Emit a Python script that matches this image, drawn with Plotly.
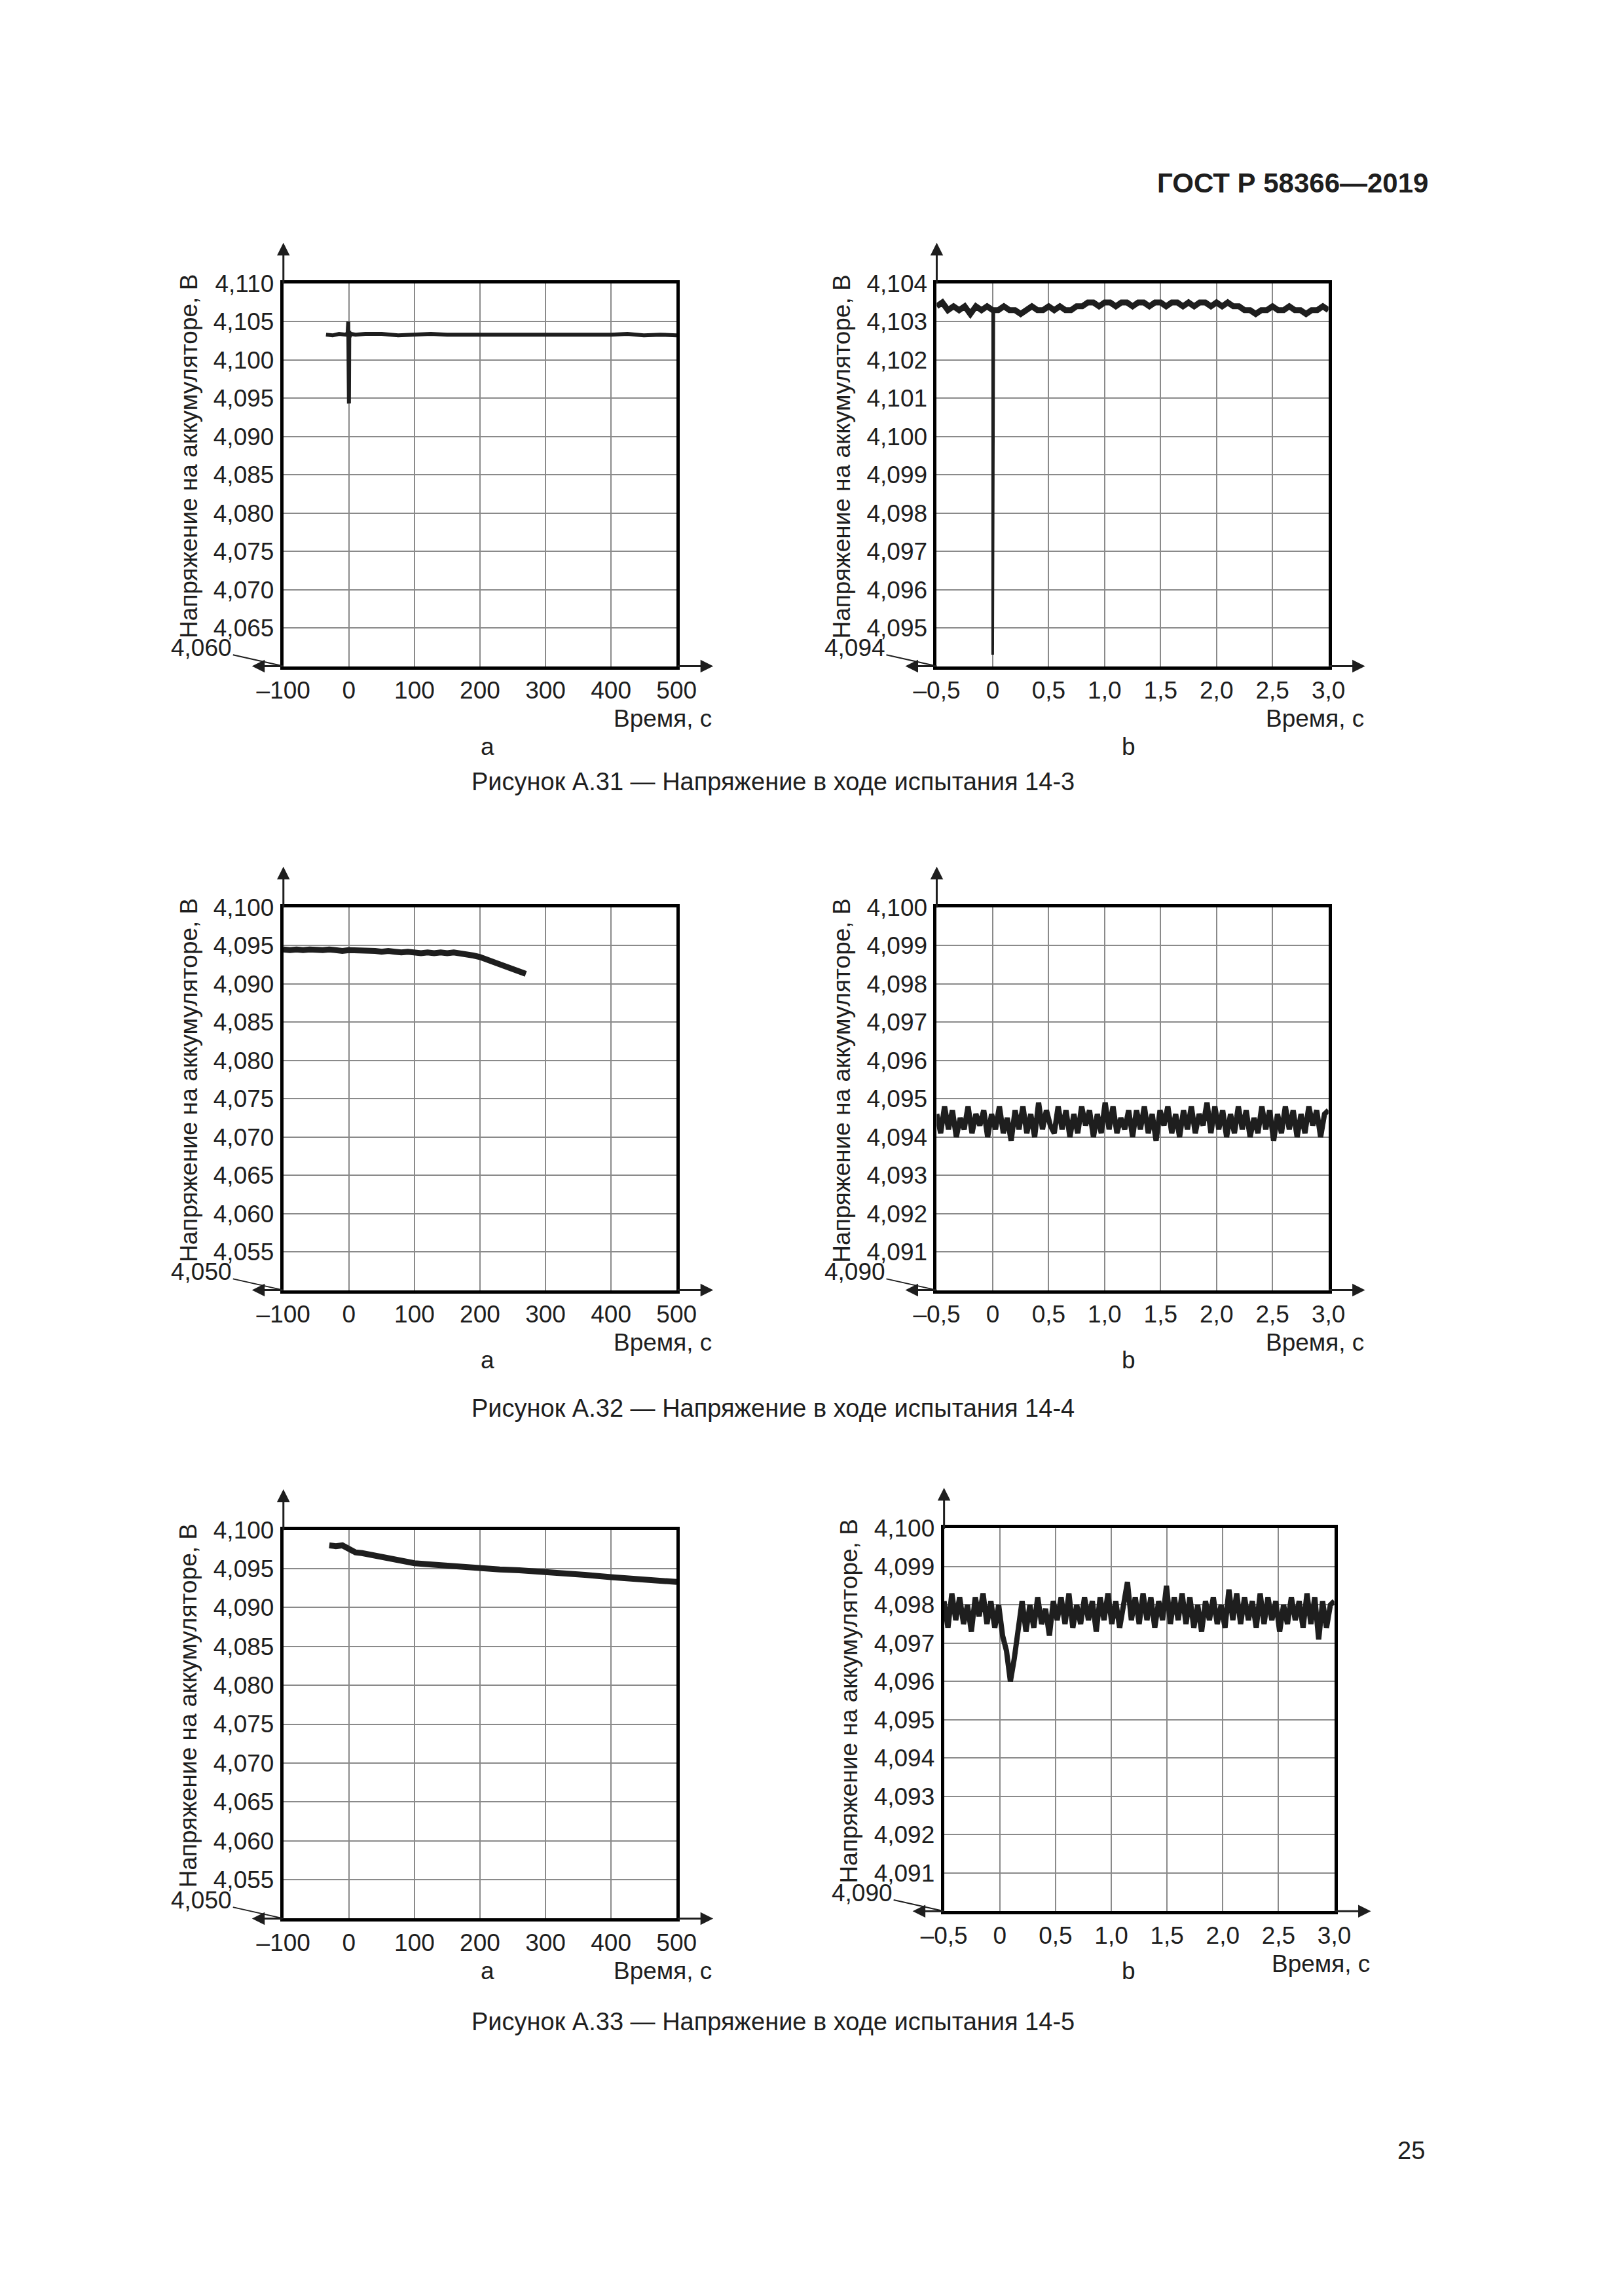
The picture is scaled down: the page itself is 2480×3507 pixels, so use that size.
import numpy as np
import plotly.graph_objects as go

W, H = 2480, 3507
S = 2.232  # reference sketch px -> page px
OFF = -6

# ---- data ----
t_31a = [-35, -25, -15, -5, -2, -1, 0, 0.5, 1, 3, 10, 25, 50, 75, 100, 125, 150, 175, 200, 225,
         250, 275, 300, 325, 350, 375, 400, 425, 450, 475, 500]
v_31a = [4.1033, 4.1032, 4.1034, 4.1033, 4.1035, 4.1050, 4.0943, 4.1038, 4.1030, 4.1034,
         4.1033, 4.1034, 4.1034, 4.1032, 4.1033, 4.1034, 4.1033, 4.1033, 4.1032, 4.1033,
         4.1032, 4.1033, 4.1032, 4.1032, 4.1033, 4.1032, 4.1033, 4.1034, 4.1032, 4.1033, 4.1032]

# 14-3 b, 1e-4 V above 4.1030
d_31b = [4, 5, 3, 4, 3, 4, 2, 4, 3, 4, 3,
         3, 4, 3, 3, 2, 3, 4, 3, 3, 4, 3, 4, 3, 3, 4, 4, 5, 5, 4, 5,
         5, 4, 5, 5, 4, 5, 5, 4, 5, 5, 4, 5, 5, 4, 5, 4, 5, 5, 4, 5,
         4, 5, 4, 4, 3, 3, 2, 3, 3, 4, 3, 3, 4, 3, 3, 2, 3, 3, 4, 3]
spike_31b_t = [0, 0, 0.01]
spike_31b_v = [4.1033, 4.0943, 4.1033]

t_32a = [-100, -90, -80, -70, -60, -50, -40, -30, -20, -10, 0, 10, 20, 30, 40, 50, 60, 70, 80, 90,
         100, 110, 120, 130, 140, 150, 160, 170, 180, 190, 200, 210, 220, 230, 240, 250, 260, 270]
d_32a = [45, 44, 45, 44, 45, 44, 44, 45, 44, 43, 44, 44, 43, 44, 43, 42, 43, 42, 41, 42,
         41, 40, 41, 40, 41, 40, 41, 40, 39, 37, 35, 32, 29, 26, 23, 20, 16, 13]  # 1e-4 V above 4.090

d_32b = [2, -3, 4, -2, 3, -4, 1, -2, 4, -3,
         2, -1, 3, -4, 2, -2, 4, -3, 1, -5,
         3, -2, 4, -3, 2, -4, 5, -2, 3, -1,
         -3, 4, -2, 3, -4, 2, -3, 4, -1, 3,
         -4, 2, -3, 5, -2, 4, -3, 1, -2, 3,
         -4, 3, -2, 4, -3, 2, -5, 3, -1, 4,
         -3, 2, -4, 3, -2, 4, -3, 2, -1, 5,
         -3, 4, -2, 3, -4, 2, -3, 4, -2, 3,
         -4, 1, -3, 4, -2, 3, -5, 2, -3, 4,
         -2, 3, -4, 2, -3, 4, -1, 3, -4, 2, 3]  # 1e-4 V around 4.0944

t_33a = [-30, -20, -10, -5, 0, 5, 10, 20, 40, 60, 80, 100, 130, 160, 200, 230, 260, 300,
         330, 360, 400, 430, 460, 500]
d_33a = [80, 79, 80, 78, 74, 72, 71, 70, 67, 64, 61, 57, 55, 53, 50, 49, 48, 46,
         44, 42, 39, 37, 35, 33]  # 1e-4 V above 4.090

d_33b = [3, -4, 5, -2, 4, -3, 2, -5, 4, -1,
         5, -3, 3, -4, 2, -6, -10, -18, -12, -4,
         3, -5, 2, -4, 4, -3, 1, -6, 3, -2,
         4, -3, 5, -4, 2, -3, 4, -2, 3, -5,
         4, -2, 5, -3, 3, -4, 2, 8, -2, 4,
         -3, 5, -2, 4, -4, 3, -2, 7, -3, 4,
         -2, 5, -3, 4, -4, 2, -5, 3, -2, 4,
         -3, 2, -4, 6, -2, 5, -3, 4, -2, 3,
         -4, 5, -3, 4, -2, 3, -5, 2, -3, 4,
         -2, 3, -4, 5, -3, 4, -7, 3, -4, 2, 3]  # 1e-4 V around 4.0978

x_ticks_a = [-100, 0, 100, 200, 300, 400, 500]
x_ticks_b = [-0.5, 0, 0.5, 1.0, 1.5, 2.0, 2.5, 3.0]

panels = [
    dict(box=(193, 462, 193, 455), xt=x_ticks_a, yr=(4.060, 4.110), dy=0.005,
         tr=[(t_31a, v_31a, 6)]),
    dict(box=(640, 908, 193, 455), xt=x_ticks_b, yr=(4.094, 4.104), dy=0.001,
         tr=[(np.linspace(-0.5, 3.0, len(d_31b)), 4.1030 + np.array(d_31b) * 1e-4, 9),
             (spike_31b_t, spike_31b_v, 4)]),
    dict(box=(193, 462, 620, 882), xt=x_ticks_a, yr=(4.050, 4.100), dy=0.005,
         tr=[(t_32a, 4.090 + np.array(d_32a) * 1e-4, 9)]),
    dict(box=(640, 908, 620, 882), xt=x_ticks_b, yr=(4.090, 4.100), dy=0.001,
         tr=[(np.linspace(-0.5, 3.0, len(d_32b)), 4.0944 + np.array(d_32b) * 1e-4, 8)]),
    dict(box=(193, 462, 1046, 1312), xt=x_ticks_a, yr=(4.050, 4.100), dy=0.005,
         tr=[(t_33a, 4.090 + np.array(d_33a) * 1e-4, 9)]),
    dict(box=(645, 912, 1045, 1307), xt=x_ticks_b, yr=(4.090, 4.100), dy=0.001,
         tr=[(np.linspace(-0.5, 3.0, len(d_33b)), 4.0978 + np.array(d_33b) * 1e-4, 8)]),
]

FONT = "Liberation Sans"
INK = "#1e1e1e"
FS = 37
fig = go.Figure()
ann = []


def px(v):
    return v * S + OFF


def fmt(v, nd):
    s = f"{abs(v):.{nd}f}".replace(".", ",")
    return ("–" + s) if v < 0 else s


for i, p in enumerate(panels):
    n = "" if i == 0 else str(i + 1)
    x0, x1, y0, y1 = [px(c) for c in p["box"]]
    xd = [x0 / W, x1 / W]
    yd = [1 - y1 / H, 1 - y0 / H]
    for tx, ty, lw in p["tr"]:
        fig.add_trace(go.Scatter(x=tx, y=ty, mode="lines", line=dict(color=INK, width=lw),
                                 xaxis="x" + n, yaxis="y" + n, showlegend=False))
    xt = p["xt"]
    nd = 1 if xt[0] == -0.5 else 0
    xtext = [("0" if v == 0 else fmt(v, nd)) for v in xt]
    ya, yb = p["yr"]
    yt = list(np.round(np.arange(ya, yb + p["dy"] / 2, p["dy"]), 4))
    ytext = [""] + [fmt(v, 3) for v in yt[1:]]
    common = dict(showline=True, linecolor="black", linewidth=5, mirror=True, showgrid=True,
                  gridcolor="#8a8a8a", gridwidth=2, zeroline=False, ticks="", automargin=False,
                  tickfont=dict(family=FONT, size=FS, color=INK))
    fig.layout["xaxis" + n] = dict(domain=xd, range=[xt[0], xt[-1]], tickvals=xt, ticktext=xtext,
                                   anchor="y" + n, ticklabelstandoff=0, **common)
    fig.layout["yaxis" + n] = dict(domain=yd, range=[ya, yb], tickvals=yt, ticktext=ytext,
                                   anchor="x" + n, ticklabelstandoff=2, **common)
    # axis arrows
    arr = dict(xref="paper", yref="paper", axref="pixel", ayref="pixel", text="", showarrow=True,
               arrowhead=2, arrowsize=1.3, arrowwidth=3, arrowcolor=INK)
    ann.append(dict(x=xd[0], y=1 - (y0 - 62) / H, ax=0, ay=64, **arr))
    ann.append(dict(x=(x0 - 48) / W, y=yd[0], ax=48, ay=0, **arr))
    ann.append(dict(x=(x1 + 56) / W, y=yd[0], ax=-56, ay=0, **arr))
    # bottom value with leader line
    ann.append(dict(x=xd[0], y=yd[0], xref="paper", yref="paper", axref="pixel", ayref="pixel",
                    ax=-125, ay=-28, text=fmt(ya, 3), showarrow=True, arrowhead=0, arrowwidth=2,
                    arrowcolor=INK, font=dict(family=FONT, size=FS, color=INK)))
    # axis titles
    ann.append(dict(x=(x1 + 56) / W, y=1 - (y1 + 80) / H, xref="paper", yref="paper",
                    xanchor="right", yanchor="middle", showarrow=False, text="Время, с",
                    font=dict(family=FONT, size=FS, color=INK)))
    ann.append(dict(x=(x0 - 145) / W, y=(yd[0] + yd[1]) / 2 + 0.008, xref="paper", yref="paper",
                    xanchor="center", yanchor="middle", textangle=-90, showarrow=False,
                    text="Напряжение на аккумуляторе, В",
                    font=dict(family=FONT, size=FS, color=INK)))

# sub-letters and figure captions
for yl, yc, num, test in [(500, 534, "31", "14-3"), (930, 963, "32", "14-4"), (1358, 1393, "33", "14-5")]:
    for xl, t in [(327, "а"), (777, "b")]:
        ann.append(dict(x=px(xl) / W, y=1 - px(yl) / H, xref="paper", yref="paper", showarrow=False,
                        text=t, font=dict(family=FONT, size=FS, color=INK)))
    ann.append(dict(x=px(528) / W, y=1 - px(yc) / H, xref="paper", yref="paper", showarrow=False,
                    text=f"Рисунок А.{num} — Напряжение в ходе испытания {test}",
                    font=dict(family=FONT, size=38, color=INK)))

ann.append(dict(x=px(977) / W, y=1 - px(113) / H, xref="paper", yref="paper", xanchor="right",
                showarrow=False, text="<b>ГОСТ Р 58366—2019</b>",
                font=dict(family=FONT, size=42, color=INK)))
ann.append(dict(x=px(975) / W, y=1 - px(1481) / H, xref="paper", yref="paper", xanchor="right",
                showarrow=False, text="25", font=dict(family=FONT, size=38, color=INK)))

fig.update_layout(width=W, height=H, margin=dict(l=0, r=0, t=0, b=0, autoexpand=False),
                  plot_bgcolor="white", paper_bgcolor="white", annotations=ann)
fig.write_html("out.html")
